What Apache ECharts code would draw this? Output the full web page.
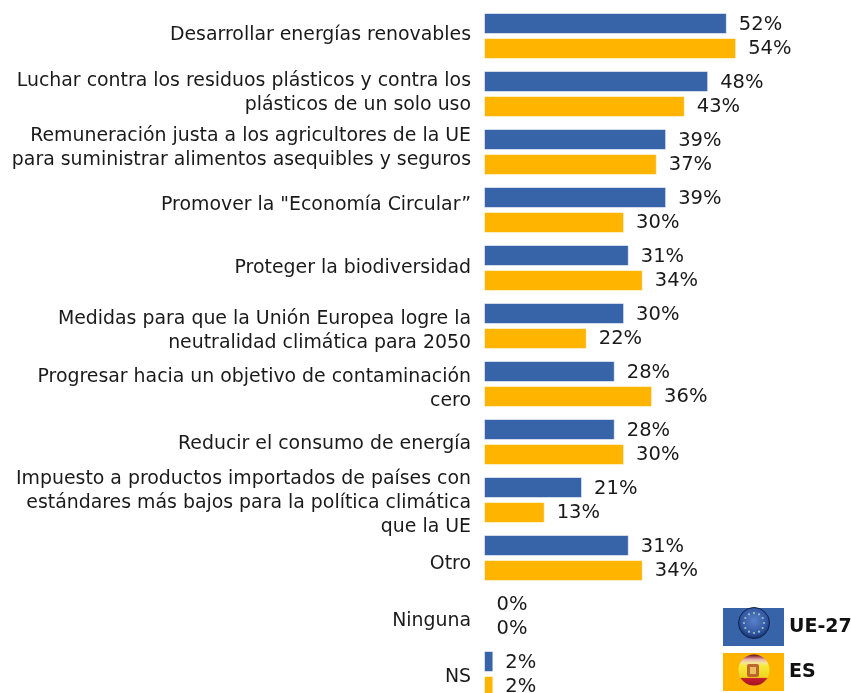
<!DOCTYPE html>
<html><head><meta charset="utf-8">
<style>html,body{margin:0;padding:0;background:#fff;overflow:hidden}#c{width:851px;height:693px}</style>
<script src="https://cdn.jsdelivr.net/npm/echarts@6/dist/echarts.min.js"></script>
</head><body><div id="c"></div>
<script>
const categories = [
 'Desarrollar energías renovables',
 'Luchar contra los residuos plásticos y contra los\nplásticos de un solo uso',
 'Remuneración justa a los agricultores de la UE\npara suministrar alimentos asequibles y seguros',
 'Promover la "Economía Circular”',
 'Proteger la biodiversidad',
 'Medidas para que la Unión Europea logre la\nneutralidad climática para 2050',
 'Progresar hacia un objetivo de contaminación\ncero',
 'Reducir el consumo de energía',
 'Impuesto a productos importados de países con\nestándares más bajos para la política climática\nque la UE',
 'Otro',
 'Ninguna',
 'NS'
];
const seriesNames = ['UE-27', 'ES'];
const ue27 = [52,48,39,39,31,30,28,28,21,31,0,2];
const es   = [54,43,37,30,34,22,36,30,13,34,0,2];

const FONT = '"DejaVu Sans", Verdana, sans-serif';
const BLUE = '#3763A8', GOLD = '#FFB400';
// style only: the source's category labels sit slightly off the band centres
const labelShift = [-1,-1,-3.5,-5,0,5,5,2,3.5,6,5,3];
const categoryItems = categories.map((value,i) => {
  const d = labelShift[i];
  return {value, textStyle:{padding:[d>0?2*d:0,0,d<0?-2*d:0,0]}};
});
const mk = (name, data, color, dy) => ({
  name, type:'bar', data, barWidth:21, barGap:'19%',
  itemStyle:{color, borderColor:'rgba(255,255,255,0.55)', borderWidth:1},
  label:{show:true, position:'right', distance:12, offset:[0,dy], formatter:'{c}%', color:'#1a1a1a', fontFamily:FONT, fontSize:19.5},
  silent:true, animation:false
});

// decorative flag badges on the legend swatches
const euStars = [];
for (let i=0;i<12;i++){
  const a = i*Math.PI/6;
  euStars.push({type:'circle', shape:{cx:754+10*Math.cos(a), cy:623+10*Math.sin(a), r:1.1}, style:{fill:'#9fc4b8'}, z:102});
}
const flags = [
 {type:'circle', z:101, shape:{cx:754,cy:623,r:15.5}, style:{
   fill:{type:'radial',x:0.5,y:0.42,r:0.6,colorStops:[{offset:0,color:'#5a82c8'},{offset:0.7,color:'#2f55a0'},{offset:1,color:'#0f2558'}]},
   stroke:'#13254f', lineWidth:1}},
 ...euStars,
 {type:'circle', z:101, shape:{cx:754,cy:670,r:15.5}, style:{
   fill:{type:'linear',x:0,y:0,x2:0,y2:1,colorStops:[
     {offset:0,color:'#4a0a1c'},{offset:0.07,color:'#a8485a'},{offset:0.16,color:'#e8b0a8'},{offset:0.27,color:'#f3e6a0'},
     {offset:0.36,color:'#f6ea3c'},{offset:0.74,color:'#f0d41e'},{offset:0.76,color:'#c9202c'},{offset:1,color:'#a01424'}]}}},
 {type:'rect', z:102, shape:{x:747,y:664,width:12,height:13,r:2}, style:{fill:'#b5502c', opacity:0.85}},
 {type:'rect', z:103, shape:{x:750,y:667,width:6,height:7}, style:{fill:'#e8c060'}}
];

const chart = echarts.init(document.getElementById('c'), null, {renderer:'canvas'});
chart.setOption({
  animation:false,
  backgroundColor:'#fff',
  grid:{left:484, top:7, width:467, height:696, containLabel:false, outerBoundsMode:'none'},
  xAxis:{type:'value', min:0, max:100, show:false},
  yAxis:{type:'category', inverse:true, data:categoryItems,
    axisLine:{show:false}, axisTick:{show:false},
    axisLabel:{margin:13, color:'#1a1a1a', fontFamily:FONT, fontSize:18.9, lineHeight:24, align:'right', interval:0, rich:{plain:{}}}},
  legend:{show:true, orient:'vertical', left:723, top:608, padding:0, width:128, height:120, itemWidth:61, itemHeight:38, itemGap:7,
    selectedMode:false, icon:'rect', data:seriesNames, itemStyle:{borderWidth:0},
    textStyle:{color:'#111', fontFamily:FONT, fontSize:19, fontWeight:'bold'}},
  series:[mk(seriesNames[0], ue27, BLUE, 1.5), mk(seriesNames[1], es, GOLD, 0.5)],
  graphic:{elements:flags}
});
</script></body></html>
